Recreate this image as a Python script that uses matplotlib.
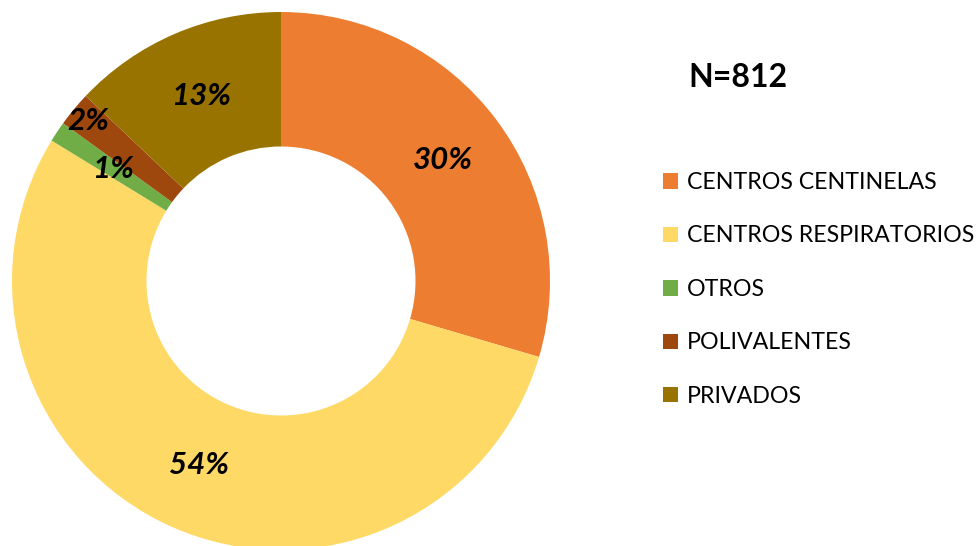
import matplotlib
matplotlib.use("Agg")
import matplotlib.pyplot as plt
import numpy as np

categories = ["CENTROS CENTINELAS", "CENTROS RESPIRATORIOS", "OTROS", "POLIVALENTES", "PRIVADOS"]
counts = [240, 440, 10, 17, 105]
colors = ["#ED7D31", "#FFD966", "#70AD47", "#9E480E", "#997300"]
total_label = "N=812"

plt.rcParams['font.family'] = ['Lato', 'DejaVu Sans']

fig = plt.figure(figsize=(9.76, 5.46), dpi=100)
ax = fig.add_axes([12/976, -4/546, 538/976, 538/546])

wedges, _ = ax.pie(counts, colors=colors, startangle=90, counterclock=False,
                   radius=1.0, wedgeprops=dict(width=0.5, linewidth=0))
ax.set_xlim(-1, 1)
ax.set_ylim(-1, 1)
ax.set_aspect('equal')
ax.axis('off')

total = sum(counts)
label_r = [0.75, 0.75, 0.75, 0.93, 0.75]
for w, c, r in zip(wedges, counts, label_r):
    ang = np.deg2rad((w.theta1 + w.theta2) / 2)
    ax.text(r * np.cos(ang), r * np.sin(ang), f"{round(100 * c / total):d}%",
            ha='center', va='center', fontsize=22.5, fontweight='bold', fontstyle='italic',
            color='black')

fig.text(688/976, 1 - 78/546, total_label, ha='left', va='center', fontsize=23, fontweight='bold')

leg = fig.legend(wedges, categories, loc='upper left', bbox_to_anchor=(663/976, 1 - 172/546),
                 frameon=False, fontsize=16.7, handlelength=0.65, handleheight=0.65,
                 handletextpad=0.4, labelspacing=1.4, borderaxespad=0, borderpad=0)

fig.savefig("out.png", dpi=100)
